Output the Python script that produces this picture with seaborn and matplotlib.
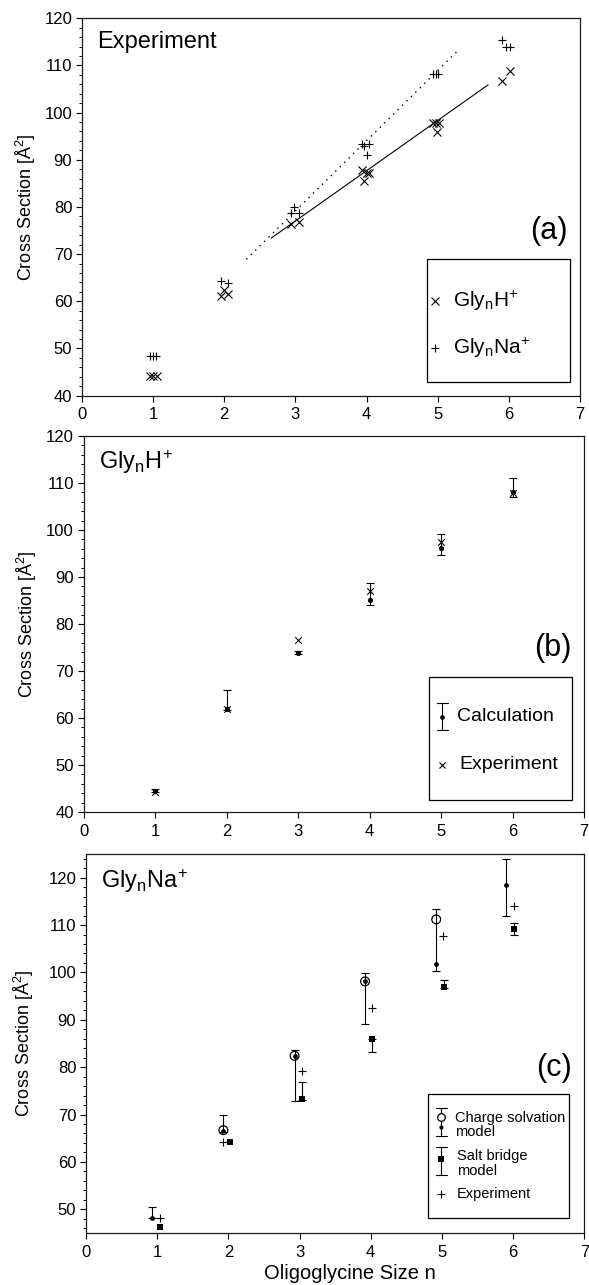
import numpy as np
import pandas as pd
import matplotlib
matplotlib.use("Agg")
import matplotlib.pyplot as plt
from matplotlib.ticker import MultipleLocator
from matplotlib.patches import Rectangle
import seaborn as sns

# ---------------- data ----------------
# Panel (a): experiment, several measurements per n
a_h_x = [0.96, 1.00, 1.05, 1.95, 2.00, 2.05, 2.94, 3.05, 3.93, 3.97, 4.00, 4.03,
         4.93, 4.97, 5.02, 4.99, 5.91, 6.01]
a_h_y = [44.2, 44.2, 44.2, 61.2, 62.4, 61.5, 76.3, 76.8, 87.8, 85.5, 87.3, 87.3,
         97.9, 97.9, 97.9, 95.8, 106.8, 108.9]
a_na_x = [0.96, 1.00, 1.04, 1.95, 2.05, 2.94, 2.98, 3.05, 3.93, 3.97, 4.03, 4.00,
          4.93, 4.97, 5.01, 5.91, 5.96, 6.01]
a_na_y = [48.3, 48.3, 48.3, 64.3, 63.8, 78.8, 79.9, 78.8, 93.3, 92.9, 93.3, 91.1,
          108.2, 108.2, 108.2, 115.3, 113.9, 113.9]
h_fit_x = [2.66, 5.71]
h_fit_y = [73.4, 105.9]
na_fit_x = [2.31, 5.30]
na_fit_y = [68.9, 113.4]

# Panel (b): GlynH+
b_n = [1, 2, 3, 4, 5, 6]
b_calc = [44.5, 61.9, 73.9, 85.1, 96.1, 108.0]
b_calc_lo = [44.2, 61.6, 73.6, 84.1, 94.6, 107.0]
b_calc_hi = [44.8, 66.0, 74.2, 88.7, 99.1, 111.1]
b_exp = [44.2, 61.9, 76.6, 87.1, 97.4, 107.8]

# Panel (c): GlynNa+
c_cs_x = [0.93, 1.93, 2.93, 3.92, 4.92, 5.90]
c_cs_dot = [48.1, 66.5, 82.4, 98.1, 101.7, 118.5]
c_cs_open_x = [1.93, 2.93, 3.92, 4.92]
c_cs_open = [66.7, 82.4, 98.1, 111.2]
c_cs_lo = [48.1, 66.3, 72.9, 89.2, 100.2, 111.9]
c_cs_hi = [50.4, 69.8, 83.6, 99.8, 113.3, 124.0]
c_sb_x = [1.04, 2.03, 3.03, 4.02, 5.03, 6.01]
c_sb = [46.3, 64.1, 73.2, 85.9, 97.0, 109.2]
c_sb_lo = [46.3, 64.1, 73.0, 83.2, 96.8, 108.0]
c_sb_hi = [46.3, 64.1, 76.9, 86.0, 98.3, 110.4]
c_exp_x = [1.04, 1.93, 3.03, 4.02, 5.02, 6.01]
c_exp = [48.1, 64.1, 79.1, 92.4, 107.7, 114.0]

x_ticks = [0, 1, 2, 3, 4, 5, 6, 7]

LBL_H = r"$\mathregular{Gly_nH^{\!+}}$"
LBL_NA = r"$\mathregular{Gly_nNa^{\!+}}$"

# ---------------- style ----------------
sns.set_theme(style="ticks")
plt.rcParams["font.family"] = ["Liberation Sans", "DejaVu Sans"]
plt.rcParams["mathtext.fontset"] = "custom"
plt.rcParams["mathtext.rm"] = "Liberation Sans"
plt.rcParams["axes.linewidth"] = 0.9
plt.rcParams["axes.edgecolor"] = "#1a1a1a"
plt.rcParams["text.color"] = "black"
plt.rcParams["axes.labelcolor"] = "black"
plt.rcParams["xtick.color"] = "black"
plt.rcParams["ytick.color"] = "black"
plt.rcParams["xtick.labelcolor"] = "black"
plt.rcParams["ytick.labelcolor"] = "black"

fig = plt.figure(figsize=(5.89, 12.85), dpi=100)
ax_a = fig.add_axes([0.1392, 0.6921, 0.8455, 0.2937])
ax_b = fig.add_axes([0.1418, 0.3681, 0.8500, 0.2926])
ax_c = fig.add_axes([0.1460, 0.0405, 0.8460, 0.2949])

K = "black"


def style_axis(ax, ylim, yticks):
    ax.set_xlim(0, 7)
    ax.set_ylim(*ylim)
    ax.set_xticks(x_ticks)
    ax.set_yticks(yticks)
    ax.yaxis.set_minor_locator(MultipleLocator(2))
    ax.tick_params(axis="both", which="major", direction="out", labelsize=12,
                   color=K, labelcolor=K, width=0.8)
    ax.tick_params(axis="x", which="major", length=4.5, pad=4)
    ax.tick_params(axis="y", which="major", length=4.5, pad=2.5)
    ax.tick_params(axis="y", which="minor", direction="out", length=2.2, width=0.7,
                   color=K)
    ax.tick_params(axis="x", which="minor", bottom=False)
    for s in ax.spines.values():
        s.set_visible(True)
    ax.set_ylabel(r"Cross Section [Å$^\mathregular{2}$]", fontsize=13, color=K)
    ax.yaxis.set_label_coords(-0.088, 0.5)
    ax.set_xlabel("")


def vbar_key(ax, x, y0, y1, cw=0.011):
    ax.plot([x, x], [y0, y1], color=K, lw=0.8, transform=ax.transAxes, clip_on=False)
    for yy in (y0, y1):
        ax.plot([x - cw, x + cw], [yy, yy], color=K, lw=0.8,
                transform=ax.transAxes, clip_on=False)


def key_box(ax, x0, y0, x1, y1):
    ax.add_patch(Rectangle((x0, y0), x1 - x0, y1 - y0, transform=ax.transAxes,
                           fill=False, lw=0.9, ec=K, zorder=5))


# ---------------- panel (a) ----------------
ax = ax_a
sns.lineplot(x=h_fit_x, y=h_fit_y, ax=ax, color=K, lw=0.8)
sns.lineplot(x=na_fit_x, y=na_fit_y, ax=ax, color=K, lw=1.0, linestyle=(0, (1, 3.5)))
sns.scatterplot(x=a_h_x, y=a_h_y, ax=ax, marker="x", color=K, s=34, linewidth=0.8)
sns.scatterplot(x=a_na_x, y=a_na_y, ax=ax, marker="+", color=K, s=40, linewidth=0.8)
style_axis(ax, (40, 120), [40, 50, 60, 70, 80, 90, 100, 110, 120])
ax.text(0.03, 0.937, "Experiment", transform=ax.transAxes, fontsize=17,
        ha="left", va="center")
ax.text(0.975, 0.435, "(a)", transform=ax.transAxes, fontsize=22,
        ha="right", va="center")
key_box(ax, 0.693, 0.037, 0.98, 0.363)
ax.plot([0.709], [0.252], marker="x", ms=5.5, mew=0.8, color=K,
        transform=ax.transAxes, clip_on=False)
ax.plot([0.709], [0.127], marker="+", ms=6, mew=0.8, color=K,
        transform=ax.transAxes, clip_on=False)
ax.text(0.745, 0.252, LBL_H, transform=ax.transAxes,
        fontsize=15, ha="left", va="center")
ax.text(0.745, 0.127, LBL_NA, transform=ax.transAxes,
        fontsize=15, ha="left", va="center")

# ---------------- panel (b) ----------------
ax = ax_b
b_lo_err = np.array(b_calc) - np.array(b_calc_lo)
b_hi_err = np.array(b_calc_hi) - np.array(b_calc)
ax.errorbar(b_n, b_calc, yerr=[b_lo_err, b_hi_err], fmt="none", ecolor=K,
            elinewidth=0.8, capsize=3.2, capthick=0.8)
sns.scatterplot(x=b_n, y=b_calc, ax=ax, marker="o", color=K, s=14, linewidth=0)
sns.scatterplot(x=b_n, y=b_exp, ax=ax, marker="x", color=K, s=22, linewidth=0.8)
style_axis(ax, (40, 120), [40, 50, 60, 70, 80, 90, 100, 110, 120])
ax.text(0.03, 0.932, LBL_H, transform=ax.transAxes,
        fontsize=17, ha="left", va="center")
ax.text(0.975, 0.436, "(b)", transform=ax.transAxes, fontsize=22,
        ha="right", va="center")
key_box(ax, 0.690, 0.032, 0.975, 0.359)
vbar_key(ax, 0.717, 0.218, 0.291)
ax.plot([0.717], [0.253], marker="o", ms=3.4, color=K, mew=0,
        transform=ax.transAxes, clip_on=False)
ax.plot([0.717], [0.125], marker="x", ms=4.5, mew=0.8, color=K,
        transform=ax.transAxes, clip_on=False)
ax.text(0.745, 0.253, "Calculation", transform=ax.transAxes, fontsize=14,
        ha="left", va="center")
ax.text(0.750, 0.125, "Experiment", transform=ax.transAxes, fontsize=14,
        ha="left", va="center")

# ---------------- panel (c) ----------------
ax = ax_c
cs_lo = np.array(c_cs_lo)
cs_hi = np.array(c_cs_hi)
ax.errorbar(c_cs_x, cs_lo, yerr=[np.zeros_like(cs_lo), cs_hi - cs_lo], fmt="none",
            ecolor=K, elinewidth=0.8, capsize=3.2, capthick=0.8)
sb_lo = np.array(c_sb_lo)
sb_hi = np.array(c_sb_hi)
m = (sb_hi - sb_lo) > 0.05
ax.errorbar(np.array(c_sb_x)[m], sb_lo[m], yerr=[np.zeros(m.sum()), (sb_hi - sb_lo)[m]],
            fmt="none", ecolor=K, elinewidth=0.8, capsize=3.2, capthick=0.8)
sns.scatterplot(x=c_cs_open_x, y=c_cs_open, ax=ax, marker="o", s=40,
                facecolor="none", edgecolor=K, linewidth=0.9)
sns.scatterplot(x=c_cs_x, y=c_cs_dot, ax=ax, marker="o", color=K, s=12, linewidth=0)
sns.scatterplot(x=c_sb_x, y=c_sb, ax=ax, marker="s", color=K, s=20, linewidth=0)
sns.scatterplot(x=c_exp_x, y=c_exp, ax=ax, marker="+", color=K, s=36, linewidth=0.8)
style_axis(ax, (45, 125), [50, 60, 70, 80, 90, 100, 110, 120])
ax.yaxis.set_minor_locator(MultipleLocator(2))
ax.set_xlabel("Oligoglycine Size n", fontsize=14.5, color=K)
ax.xaxis.set_label_coords(0.53, -0.083)
ax.yaxis.set_label_coords(-0.10, 0.5)
ax.text(0.03, 0.928, LBL_NA, transform=ax.transAxes,
        fontsize=17, ha="left", va="center")
ax.text(0.975, 0.436, "(c)", transform=ax.transAxes, fontsize=22,
        ha="right", va="center")
key_box(ax, 0.687, 0.040, 0.970, 0.367)
vbar_key(ax, 0.713, 0.257, 0.330)
ax.plot([0.713], [0.306], marker="o", ms=5.5, mfc="white", mec=K, mew=0.9,
        transform=ax.transAxes, clip_on=False)
ax.plot([0.713], [0.279], marker="o", ms=3.0, color=K, mew=0,
        transform=ax.transAxes, clip_on=False)
vbar_key(ax, 0.713, 0.153, 0.228)
ax.plot([0.713], [0.195], marker="s", ms=4.2, color=K, mew=0,
        transform=ax.transAxes, clip_on=False)
ax.plot([0.713], [0.102], marker="+", ms=5.5, mew=0.8, color=K,
        transform=ax.transAxes, clip_on=False)
ax.text(0.741, 0.285, "Charge solvation\nmodel", transform=ax.transAxes,
        fontsize=10.5, ha="left", va="center", linespacing=1.05)
ax.text(0.745, 0.184, "Salt bridge\nmodel", transform=ax.transAxes,
        fontsize=10.5, ha="left", va="center", linespacing=1.05)
ax.text(0.745, 0.102, "Experiment", transform=ax.transAxes,
        fontsize=10.5, ha="left", va="center")

for a in (ax_a, ax_b, ax_c):
    leg = a.get_legend()
    if leg is not None:
        leg.remove()

fig.savefig("out.png", dpi=100)
